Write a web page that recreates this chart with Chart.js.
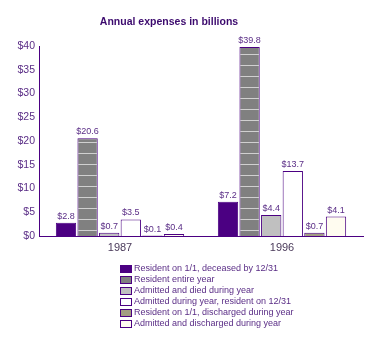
<!DOCTYPE html>
<html>
<head>
<meta charset="utf-8">
<script src="https://cdn.jsdelivr.net/npm/chart.js@4"></script>
<style>
  html, body { margin: 0; padding: 0; background: #ffffff; }
  #wrap { width: 371px; height: 345px; position: relative; }
</style>
</head>
<body>
<div id="wrap"><canvas id="expChart" width="371" height="345"></canvas></div>
<script>
// data
const years = ['1987', '1996'];
const seriesNames = [
    'Resident on 1/1, deceased by 12/31',
    'Resident entire year',
    'Admitted and died during year',
    'Admitted during year, resident on 12/31',
    'Resident on 1/1, discharged during year',
    'Admitted and discharged during year'
];
const deceased = [2.8, 7.2];
const entireYear = [20.6, 39.8];
const admittedDied = [0.7, 4.4];
const admittedResident = [3.5, 13.7];
const residentDischarged = [0.1, 0.7];
const admittedDischarged = [0.4, 4.1];
const yTicks = [0, 5, 10, 15, 20, 25, 30, 35, 40];

const purple = '#4B0082';
const textPurple = '#5A2D86';

// striped fill for "Resident entire year"
const pc = document.createElement('canvas');
pc.width = 4; pc.height = 11;
const pctx = pc.getContext('2d');
pctx.fillStyle = '#808080';
pctx.fillRect(0, 0, 4, 11);
pctx.fillStyle = '#d0d0d0';
pctx.fillRect(0, 10, 4, 1);
const stripes = pctx.createPattern(pc, 'repeat');

const fills = [purple, stripes, '#C0C0C0', '#FFFFFF', '#A29E82', '#FFFCF0'];
const values = [deceased, entireYear, admittedDied, admittedResident, residentDischarged, admittedDischarged];

// title + value labels + legend
const extras = {
    id: 'extras',
    afterDatasetsDraw(chart) {
        const ctx = chart.ctx;
        ctx.save();
        ctx.fillStyle = textPurple;
        ctx.font = '9px "Liberation Sans", Arial, sans-serif';
        ctx.textAlign = 'center';
        ctx.textBaseline = 'bottom';
        chart.data.datasets.forEach((ds, i) => {
            chart.getDatasetMeta(i).data.forEach((bar, j) => {
                ctx.fillText('$' + ds.data[j].toFixed(1), bar.x, bar.y - 2);
            });
        });
        ctx.restore();
    },
    afterDraw(chart) {
        const ctx = chart.ctx;
        ctx.save();
        ctx.fillStyle = '#3C0A6E';
        ctx.font = 'bold 10.5px "Liberation Sans", Arial, sans-serif';
        ctx.textAlign = 'center';
        ctx.textBaseline = 'middle';
        ctx.fillText('Annual expenses in billions', 169, 22);

        ctx.font = '9px "Liberation Sans", Arial, sans-serif';
        ctx.textAlign = 'left';
        chart.data.datasets.forEach((ds, i) => {
            const y = 269 + i * 11;
            ctx.fillStyle = ds.backgroundColor;
            ctx.fillRect(120, y - 3, 11, 7);
            ctx.strokeStyle = purple;
            ctx.lineWidth = 1;
            ctx.strokeRect(120.5, y - 3.5, 11, 7);
            ctx.fillStyle = textPurple;
            ctx.fillText(ds.label, 134, y);
        });
        ctx.restore();
    }
};

const ctxBar = document.getElementById('expChart').getContext('2d');
const expChart = new Chart(ctxBar, {
    type: 'bar',
    data: {
        labels: years,
        datasets: seriesNames.map((name, i) => ({
            label: name,
            data: values[i],
            backgroundColor: fills[i],
            borderColor: purple,
            borderWidth: 1,
            categoryPercentage: 0.8,
            barPercentage: 0.94
        }))
    },
    options: {
        responsive: false,
        animation: false,
        layout: {
            padding: { top: 46, right: 8, bottom: 89, left: 0 }
        },
        plugins: {
            legend: { display: false },
            title: { display: false },
            tooltip: { enabled: false }
        },
        scales: {
            x: {
                grid: { display: false, drawTicks: false },
                border: { color: purple, width: 1 },
                ticks: {
                    color: '#4A3A5A',
                    font: { family: '"Liberation Sans", Arial, sans-serif', size: 11 },
                    padding: 5
                },
                afterFit(scale) { scale.height = 20; }
            },
            y: {
                min: 0,
                max: 40,
                grid: { display: false, drawTicks: false },
                border: { color: purple, width: 1 },
                afterBuildTicks(scale) { scale.ticks = yTicks.map(v => ({ value: v })); },
                ticks: {
                    color: textPurple,
                    font: { family: '"Liberation Sans", Arial, sans-serif', size: 10.5 },
                    padding: 4,
                    callback: v => '$' + v
                },
                afterFit(scale) { scale.width = 39; }
            }
        }
    },
    plugins: [extras]
});
</script>
</body>
</html>
